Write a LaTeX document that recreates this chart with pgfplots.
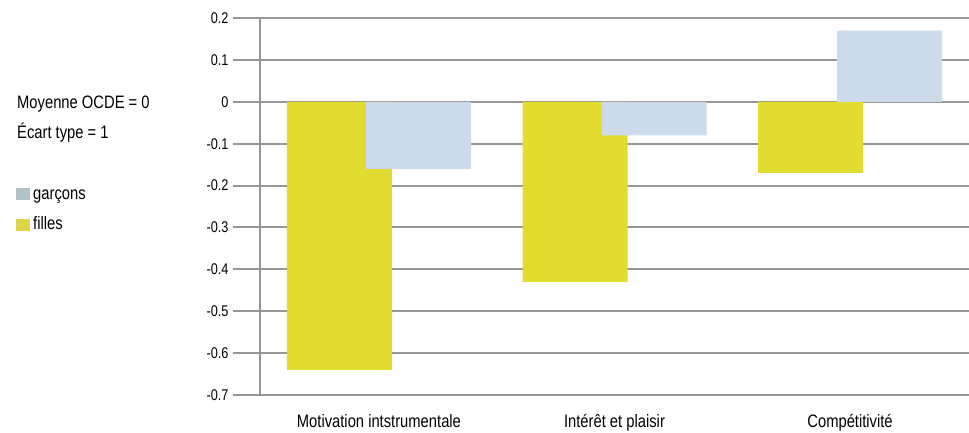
\documentclass[border=0pt]{standalone}
\usepackage{pgfplots}
\pgfplotsset{compat=1.18}
\usepackage{fontspec}
\setmainfont{Liberation Sans}[FakeStretch=0.82]
\definecolor{filles}{RGB}{226,220,49}
\definecolor{garcons}{RGB}{204,219,234}
\definecolor{legG}{RGB}{178,194,201}
\definecolor{legF}{RGB}{222,214,74}
\definecolor{gridgray}{RGB}{150,150,150}
\begin{document}
\begin{tikzpicture}
\path[use as bounding box] (-260bp,-38bp) rectangle (709bp,395bp);
\begin{axis}[
  name=main, at={(0,0)}, anchor=south west,
  scale only axis, width=709bp, height=377bp,
  xmin=-0.505, xmax=2.505, ymin=-0.7, ymax=0.2,
  ybar, bar width=105bp,
  xtick={0,1,2},
  xticklabels={Motivation intstrumentale, Intérêt et plaisir, Compétitivité},
  ytick={-0.7,-0.6,-0.5,-0.4,-0.3,-0.2,-0.1,0,0.1,0.2},
  yticklabels={-0.7,-0.6,-0.5,-0.4,-0.3,-0.2,-0.1,0,0.1,0.2},
  ymajorgrids, grid style={draw=gridgray, line width=2bp},
  axis x line*=bottom, axis y line*=left,
  x axis line style={draw=none},
  y axis line style={draw=gridgray, line width=2bp, -},
  tick align=outside, major tick length=27bp,
  xtick style={draw=none},
  ytick style={draw=gridgray, line width=2bp},
  xticklabel style={font=\fontsize{18bp}{21bp}\selectfont, yshift=9bp, inner sep=1bp},
  yticklabel style={font=\fontsize{15.5bp}{18bp}\selectfont, xshift=-1bp},
  clip=false,
  legend style={draw=none, fill=none, inner sep=0pt,
    at={(axis description cs:-0.3441,0.549)}, anchor=north west,
    row sep=13bp, font=\fontsize{18bp}{21bp}\selectfont,
    nodes={inner sep=1.5bp, anchor=base west}},
  legend cell align=left,
  legend image code/.code={\fill[#1] (0bp,-1bp) rectangle (14bp,11bp);},
]
\addplot[fill=filles, draw=none, bar shift=-39.5bp, forget plot]
  coordinates {(0,-0.64) (1,-0.43) (2,-0.17)};
\addplot[fill=garcons, draw=none, bar shift=39.5bp, forget plot]
  coordinates {(0,-0.16) (1,-0.08) (2,0.17)};
\addlegendimage{fill=legG, draw=none}
\addlegendentry{\hspace{1.5bp}garçons}
\addlegendimage{fill=legF, draw=none}
\addlegendentry{\hspace{1.5bp}filles}
\end{axis}
\node[anchor=base west, inner sep=0pt, font=\fontsize{18bp}{21bp}\selectfont] at (-243bp,286bp) {Moyenne OCDE = 0};
\node[anchor=base west, inner sep=0pt, font=\fontsize{18bp}{21bp}\selectfont] at (-243bp,256bp) {Écart type = 1};
\end{tikzpicture}
\end{document}
